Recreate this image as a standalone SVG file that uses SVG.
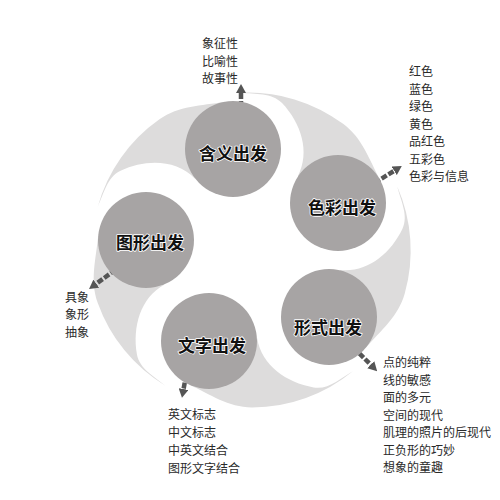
<svg xmlns="http://www.w3.org/2000/svg" width="500" height="500" viewBox="0 0 500 500">
<style>
.tail{fill:#dddcdc}
.node{fill:#a7a4a4}
.lbl{font-family:"Noto Sans CJK SC","Noto Sans",sans-serif;font-size:17px;font-weight:bold;fill:#111;text-anchor:middle;dominant-baseline:central;stroke:#fff;stroke-width:1.6;paint-order:stroke;stroke-linejoin:round}
.lst{font-family:"Noto Sans CJK SC","Noto Sans",sans-serif;font-size:12px;fill:#2a2a2a;dominant-baseline:central}
.arr{stroke:#555;stroke-width:4.5;stroke-dasharray:6 2;fill:none;marker-end:url(#ah)}
</style>
<defs>
<path id="tailshape" d="M48,0 C48,-24 52.3,-45.5 42.1,-67.2 A159,159 0 0 0 -33.3,-143.4 C-21.1,-134.7 -5.6,-129 -1.7,-114.5 C5.4,-87.9 0.2,-58 -22.6,-42.6 Z"/>
<marker id="ah" viewBox="0 0 9 10" markerWidth="9" markerHeight="10" refX="1" refY="5" orient="auto" markerUnits="userSpaceOnUse">
<path d="M0,0 L9,5 L0,10 z" fill="#555"/>
</marker>
</defs>
<rect width="500" height="500" fill="#fff"/>
<g id="background">
<use href="#tailshape" class="tail" transform="translate(233,149) rotate(-100.1)"/>
<use href="#tailshape" class="tail" transform="translate(338,203) rotate(-28.4)"/>
<use href="#tailshape" class="tail" transform="translate(329,317) rotate(40.7)"/>
<use href="#tailshape" class="tail" transform="translate(209,341) rotate(114.8)"/>
<use href="#tailshape" class="tail" transform="translate(146,240) rotate(185.4)"/>
</g>
<g id="connectors">
<line class="arr" x1="241" y1="123" x2="241" y2="92"/>
<line class="arr" x1="368" y1="187" x2="395" y2="170.3"/>
<line class="arr" x1="348" y1="342" x2="371.5" y2="365.5"/>
<line class="arr" x1="189" y1="359" x2="183.4" y2="390"/>
<line class="arr" x1="122" y1="265" x2="95.5" y2="284.3"/>
</g>
<g id="node-hanyi">
<circle class="node" cx="233" cy="149" r="48"/>
<text class="lbl" x="233" y="152">含义出发</text>
</g>
<g id="node-secai">
<circle class="node" cx="338" cy="203" r="48"/>
<text class="lbl" x="342" y="206">色彩出发</text>
</g>
<g id="node-xingshi">
<circle class="node" cx="329" cy="317" r="48"/>
<text class="lbl" x="328" y="326">形式出发</text>
</g>
<g id="node-wenzi">
<circle class="node" cx="209" cy="341" r="48"/>
<text class="lbl" x="212" y="344">文字出发</text>
</g>
<g id="node-tuxing">
<circle class="node" cx="146" cy="240" r="48"/>
<text class="lbl" x="150" y="241">图形出发</text>
</g>
<g id="list-hanyi">
<text class="lst" x="202" y="42.5">象征性</text>
<text class="lst" x="202" y="60">比喻性</text>
<text class="lst" x="202" y="77.5">故事性</text>
</g>
<g id="list-secai">
<text class="lst" x="409" y="70.5">红色</text>
<text class="lst" x="409" y="88">蓝色</text>
<text class="lst" x="409" y="105.5">绿色</text>
<text class="lst" x="409" y="123">黄色</text>
<text class="lst" x="409" y="140.5">品红色</text>
<text class="lst" x="409" y="158">五彩色</text>
<text class="lst" x="409" y="175.5">色彩与信息</text>
</g>
<g id="list-tuxing">
<text class="lst" x="65" y="296">具象</text>
<text class="lst" x="65" y="313.5">象形</text>
<text class="lst" x="65" y="331">抽象</text>
</g>
<g id="list-xingshi">
<text class="lst" x="383" y="361.5">点的纯粹</text>
<text class="lst" x="383" y="379">线的敏感</text>
<text class="lst" x="383" y="396.5">面的多元</text>
<text class="lst" x="383" y="414">空间的现代</text>
<text class="lst" x="383" y="431.5">肌理的照片的后现代</text>
<text class="lst" x="383" y="449">正负形的巧妙</text>
<text class="lst" x="383" y="466.5">想象的童趣</text>
</g>
<g id="list-wenzi">
<text class="lst" x="168" y="413.5">英文标志</text>
<text class="lst" x="168" y="431.5">中文标志</text>
<text class="lst" x="168" y="449.5">中英文结合</text>
<text class="lst" x="168" y="467.5">图形文字结合</text>
</g>
</svg>
